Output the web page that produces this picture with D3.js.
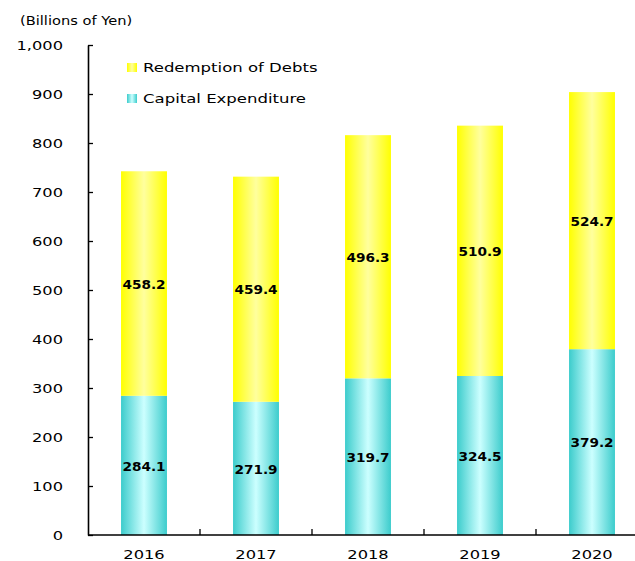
<!DOCTYPE html>
<html><head><meta charset="utf-8">
<script src="https://cdn.jsdelivr.net/npm/d3@7"></script>
<style>
html,body{margin:0;padding:0;background:#fff;}
svg{display:block;font-family:"DejaVu Sans",Verdana,sans-serif;}
</style></head>
<body>
<svg id="chart" width="635" height="561"></svg>
<script>
const years = ["2016","2017","2018","2019","2020"];
const capitalExpenditure = [284.1, 271.9, 319.7, 324.5, 379.2];
const redemptionOfDebts = [458.2, 459.4, 496.3, 510.9, 524.7];
const yTicks = [0,100,200,300,400,500,600,700,800,900,1000];
const seriesNames = ["Capital Expenditure","Redemption of Debts"];
const unitLabel = "(Billions of Yen)";

const svg = d3.select("#chart");
const defs = svg.append("defs");
function grad(id, edge, mid){
  const g = defs.append("linearGradient").attr("id",id).attr("x1","0%").attr("x2","100%").attr("y1","0%").attr("y2","0%");
  g.append("stop").attr("offset","0%").attr("stop-color",edge);
  g.append("stop").attr("offset","50%").attr("stop-color",mid);
  g.append("stop").attr("offset","100%").attr("stop-color",edge);
}
grad("gCyan","#3ccccc","#ccffff");
grad("gYellow","#ffff00","#ffff9e");

const mLeft = 88, mTop = 45, mBottom = 535, plotRight = 648;
const x = d3.scaleBand().domain(years).range([mLeft, plotRight]).paddingInner(0.59).paddingOuter(0.295);
const y = d3.scaleLinear().domain([0,1000]).range([mBottom, mTop]);

function stretch(sel, k){
  sel.each(function(){
    const w = this.getComputedTextLength();
    d3.select(this).attr("textLength", w*k).attr("lengthAdjust","spacingAndGlyphs");
  });
}

// bars
const stack = years.map((yr,i)=>({yr, c:capitalExpenditure[i], r:redemptionOfDebts[i]}));
const g = svg.append("g");
g.selectAll("rect.cap").data(stack).join("rect").attr("class","cap")
  .attr("x",d=>x(d.yr)).attr("width",x.bandwidth())
  .attr("y",d=>y(d.c)).attr("height",d=>y(0)-y(d.c))
  .attr("fill","url(#gCyan)");
g.selectAll("rect.red").data(stack).join("rect").attr("class","red")
  .attr("x",d=>x(d.yr)).attr("width",x.bandwidth())
  .attr("y",d=>y(d.c+d.r)).attr("height",d=>y(d.c)-y(d.c+d.r))
  .attr("fill","url(#gYellow)");

// value labels
const vl = svg.append("g").attr("font-size",13).attr("font-weight","bold").attr("fill","#000").attr("text-anchor","middle");
vl.selectAll("text.c").data(stack).join("text").attr("class","c")
  .attr("x",d=>x(d.yr)+x.bandwidth()/2).attr("y",d=>y(d.c/2)).attr("dy","0.4em")
  .text(d=>d.c.toFixed(1));
vl.selectAll("text.r").data(stack).join("text").attr("class","r")
  .attr("x",d=>x(d.yr)+x.bandwidth()/2).attr("y",d=>y(d.c+d.r/2)).attr("dy","0.4em")
  .text(d=>d.r.toFixed(1));
stretch(vl.selectAll("text"),1.05);

// y axis
const yAxis = svg.append("g").attr("transform",`translate(${mLeft},0)`)
  .call(d3.axisLeft(y).tickValues(yTicks).tickSizeInner(-5).tickSizeOuter(0).tickPadding(25).tickFormat(d3.format(",")));
yAxis.select(".domain").attr("stroke","#000").attr("stroke-width",1.6);
yAxis.selectAll(".tick line").attr("stroke","#000").attr("stroke-width",1.3);
yAxis.selectAll(".tick text").attr("font-size",13).attr("fill","#000").attr("font-family","DejaVu Sans, sans-serif");
stretch(yAxis.selectAll(".tick text"),1.25);

// x axis
const xAxis = svg.append("g").attr("transform",`translate(0,${mBottom})`);
xAxis.append("line").attr("x1",mLeft).attr("x2",plotRight).attr("stroke","#000").attr("stroke-width",1.6);
const step = x.step();
xAxis.selectAll("line.b").data(years.slice(1)).join("line").attr("class","b")
  .attr("x1",d=>x(d)-x.paddingInner()*step/2).attr("x2",d=>x(d)-x.paddingInner()*step/2)
  .attr("y1",0).attr("y2",-6).attr("stroke","#000").attr("stroke-width",1.3);
xAxis.selectAll("text").data(years).join("text")
  .attr("x",d=>x(d)+x.bandwidth()/2).attr("y",23.5)
  .attr("text-anchor","middle").attr("font-size",13).attr("fill","#000").text(d=>d);
stretch(xAxis.selectAll("text"),1.25);

// unit label
const ul = svg.append("text").attr("x",20).attr("y",25).attr("font-size",13).attr("fill","#000").text(unitLabel);
stretch(ul,1.125);

// legend
const legend = svg.append("g");
const legItems = [{name:seriesNames[1], fill:"url(#gYellow)", y:63},{name:seriesNames[0], fill:"url(#gCyan)", y:94}];
const li = legend.selectAll("g").data(legItems).join("g").attr("transform",d=>`translate(127,${d.y})`);
li.append("rect").attr("width",10).attr("height",9).attr("fill",d=>d.fill);
const lt = li.append("text").attr("x",16).attr("y",9).attr("font-size",13).attr("fill","#000").text(d=>d.name);
stretch(lt,1.27);
</script>
</body></html>
